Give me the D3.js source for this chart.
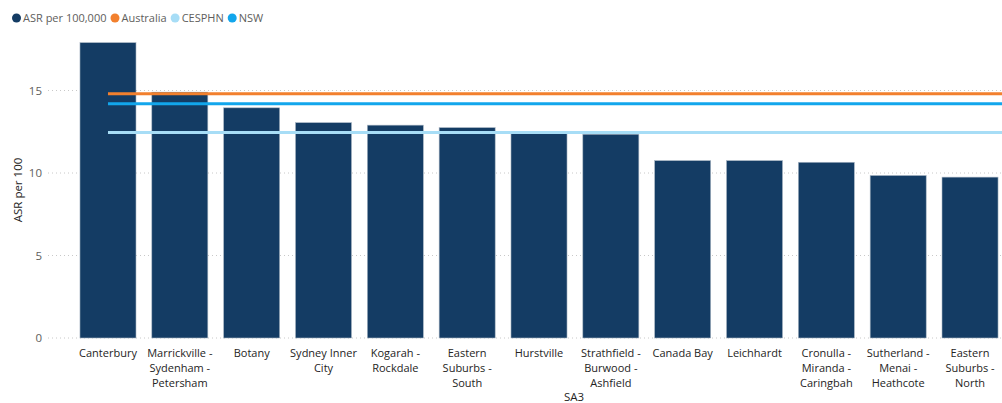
<!DOCTYPE html>
<html><head><meta charset="utf-8">
<script src="https://cdn.jsdelivr.net/npm/d3@7"></script>
<style>
body{margin:0;background:#fff;overflow:hidden}
text{font-family:"Open Sans","Noto Sans",sans-serif}
</style></head>
<body><svg id="c" width="1002" height="403"></svg>
<script>
const categories = ["Canterbury","Marrickville - Sydenham - Petersham","Botany","Sydney Inner City","Kogarah - Rockdale","Eastern Suburbs - South","Hurstville","Strathfield - Burwood - Ashfield","Canada Bay","Leichhardt","Cronulla - Miranda - Caringbah","Sutherland - Menai - Heathcote","Eastern Suburbs - North"];
const asrValues = [17.9, 14.9, 13.95, 13.05, 12.9, 12.75, 12.4, 12.35, 10.75, 10.75, 10.65, 9.85, 9.75];
const australiaValue = 14.8;
const cesphnValue = 12.45;
const nswValue = 14.2;
const yTicks = [0, 5, 10, 15];
const legendItems = ["ASR per 100,000","Australia","CESPHN","NSW"];
const colors = ["#143C64","#F2802E","#A7DDF6","#12A6EC"];

const svg = d3.select("#c");
const W = 1002, H = 403;
const x = d3.scaleBand().domain(categories).range([48, 1030]).paddingInner(0.22).paddingOuter(0.445);
const y = d3.scaleLinear().domain([0, 18]).range([338, 41]);

// gridlines
svg.append("g").selectAll("line").data(yTicks).join("line")
  .attr("x1", 48).attr("x2", W).attr("y1", d => y(d)).attr("y2", d => y(d))
  .attr("stroke", "#c8c8c8").attr("stroke-dasharray", "1,3");

// y axis
const yAxis = svg.append("g").attr("transform", "translate(44,0)")
  .call(d3.axisLeft(y).tickValues(yTicks).tickSize(0).tickPadding(2));
yAxis.select(".domain").remove();
yAxis.selectAll("text").attr("fill", "#605E5C").style("font-size", "11.5px").style("font-family", '"Open Sans",sans-serif');

svg.append("text").attr("transform", "translate(22,190) rotate(-90)")
  .attr("text-anchor", "middle").attr("fill", "#252423").style("font-size", "11.5px").text("ASR per 100");

// bars
svg.append("g").selectAll("rect").data(categories).join("rect")
  .attr("x", d => x(d)).attr("width", x.bandwidth())
  .attr("y", (d, i) => y(asrValues[i])).attr("height", (d, i) => y(0) - y(asrValues[i]))
  .attr("fill", colors[0]).attr("stroke", "#a9b6c4").attr("stroke-width", 0.6);

// reference lines
const x0 = x(categories[0]) + x.bandwidth() / 2;
[[australiaValue, colors[1]], [nswValue, colors[3]], [cesphnValue, colors[2]]].forEach(([v, c]) => {
  svg.append("line").attr("x1", x0).attr("x2", W).attr("y1", y(v)).attr("y2", y(v))
    .attr("stroke", c).attr("stroke-width", 3);
});

// x axis labels
const xAxis = svg.append("g").attr("transform", "translate(0,348)")
  .call(d3.axisBottom(x).tickSize(0).tickPadding(0));
xAxis.select(".domain").remove();
xAxis.selectAll("text").attr("fill", "#252423").style("font-size", "11px")
  .style("font-family", '"Open Sans",sans-serif').each(function(d) {
    const t = d3.select(this);
    const raw = d.split(" ");
    const words = [];
    raw.forEach(w => { if (w === "-" && words.length) words[words.length - 1] += " -"; else words.push(w); });
    t.text(null);
    let lines = [], cur = [];
    words.forEach(w => {
      const test = cur.concat([w]).join(" ");
      if (cur.length && test.length > 13) { lines.push(cur.join(" ")); cur = [w]; }
      else cur.push(w);
    });
    lines.push(cur.join(" "));
    lines.forEach((l, i) => t.append("tspan").attr("x", 0).attr("dy", i ? 15 : 9).text(l));
  });

svg.append("text").attr("x", 574).attr("y", 401).attr("text-anchor", "middle")
  .attr("fill", "#252423").style("font-size", "11.5px").text("SA3");

// legend
let lx = 12;
const lg = svg.append("g");
legendItems.forEach((name, i) => {
  lg.append("circle").attr("cx", lx + 4.5).attr("cy", 18).attr("r", 4.5).attr("fill", colors[i]);
  const t = lg.append("text").attr("x", lx + 11).attr("y", 22).attr("fill", "#605E5C")
    .style("font-size", "11px").text(name);
  lx += 11 + t.node().getComputedTextLength() + 4;
});
</script></body></html>
